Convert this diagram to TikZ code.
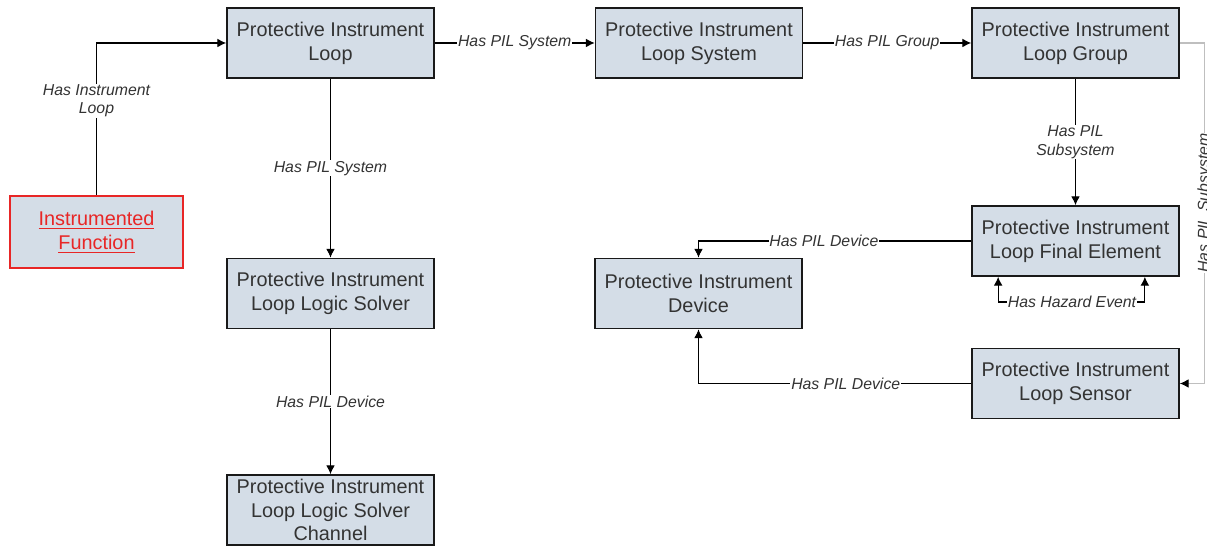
\documentclass[tikz,border=0pt]{standalone}
\usepackage{fontspec}
\setmainfont{Liberation Sans}
\usepackage{xcolor}
\usepackage{tikz}
\usetikzlibrary{arrows.meta, calc}

\definecolor{boxfill}{RGB}{212,221,231}
\definecolor{ifred}{RGB}{232,38,38}
\definecolor{txtgray}{RGB}{51,51,51}

\begin{document}
\begin{tikzpicture}[x=0.02cm, y=-0.02cm,
  entity/.style={draw=black!90, fill=boxfill, line width=1pt, minimum width=4.14cm, minimum height=1.4cm, inner sep=1pt, align=center, text=txtgray, font=\fontsize{11.3}{13.6}\selectfont},
  rel/.style={fill=white, inner sep=0.5pt, text=txtgray, font=\fontsize{9}{10.5}\selectfont\itshape},
  link/.style={-{Latex[length=5pt, width=5pt]}, line width=0.6pt, black},
  farlink/.style={-{Latex[length=5pt, width=5pt, color=black]}, line width=0.6pt, black!25}]
  \useasboundingbox (0,0) rectangle (1207,546);

  \node[entity] (pil) at (330.5,43) {Protective Instrument\\Loop};
  \node[entity] (pils) at (699,43) {Protective Instrument\\Loop System};
  \node[entity] (pilg) at (1075.5,43) {Protective Instrument\\Loop Group};
  \node[entity, minimum width=3.46cm, minimum height=1.44cm, draw=ifred, line width=1.2pt, text=ifred] (inf) at (96.5,232) {\underline{Instrumented}\\\underline{Function}};
  \node[entity] (ls) at (330.5,293.5) {Protective Instrument\\Loop Logic Solver};
  \node[entity] (lsc) at (330.5,510) {Protective Instrument\\Loop Logic Solver\\Channel};
  \node[entity] (fe) at (1075.5,241) {Protective Instrument\\Loop Final Element};
  \node[entity] (dev) at (698.5,293.5) {Protective Instrument\\Device};
  \node[entity] (sen) at (1075.5,383.5) {Protective Instrument\\Loop Sensor};

  \draw[link] (inf.north) |- node[rel, pos=0.31, align=center] {Has Instrument\\Loop} (pil.west);
  \draw[link] (pil.east) -- node[rel] {Has PIL System} (pils.west);
  \draw[link] (pils.east) -- node[rel] {Has PIL Group} (pilg.west);
  \draw[link] (pil.south) -- node[rel] {Has PIL System} (ls.north);
  \draw[link] (ls.south) -- node[rel] {Has PIL Device} (lsc.north);
  \draw[link] (pilg.south) -- node[rel, align=center] {Has PIL\\Subsystem} (fe.north);
  \draw[farlink] (pilg.east) -- ++(25,0) |- node[rel, pos=0.235, rotate=90] {Has PIL Subsystem} (sen.east);
  \draw[link] (fe.west) -| node[rel, pos=0.27] {Has PIL Device} (dev.north);
  \draw[link] (sen.west) -| node[rel, pos=0.23] {Has PIL Device} (dev.south);

  \node[rel] (haz) at (1072,302) {Has Hazard Event};
  \draw[link] (haz.west) -| ([xshift=0.54cm]fe.south west);
  \draw[link] (haz.east) -| ([xshift=-0.7cm]fe.south east);
\end{tikzpicture}
\end{document}
